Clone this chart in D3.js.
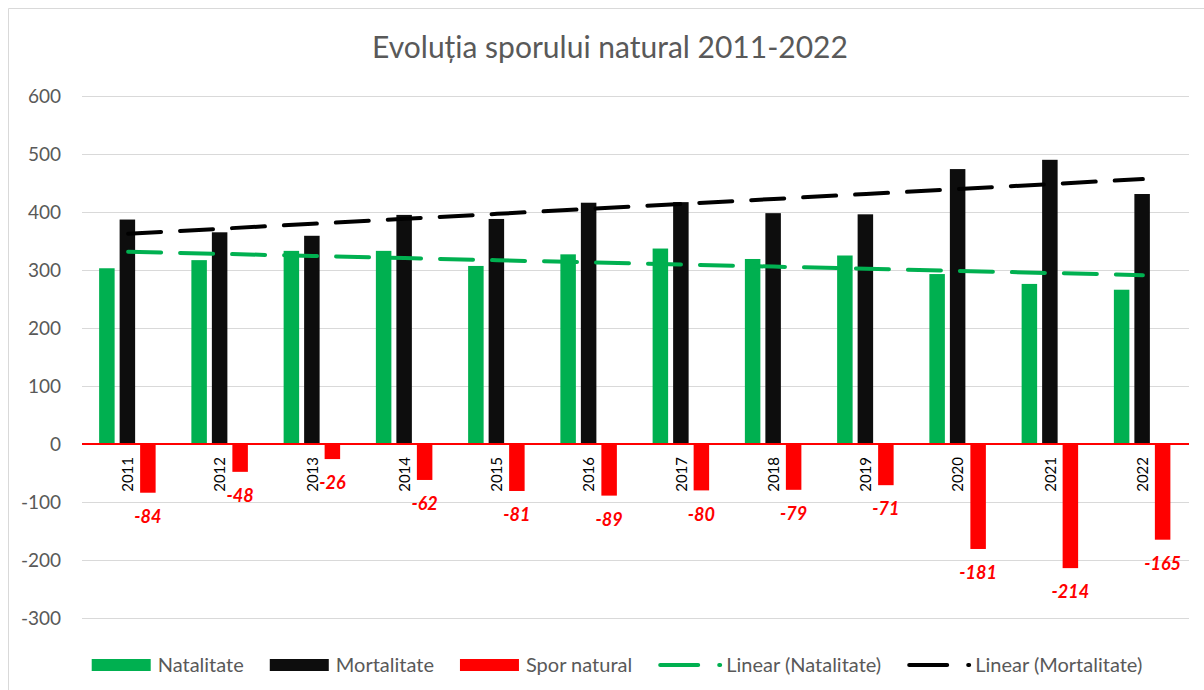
<!DOCTYPE html>
<html>
<head>
<meta charset="utf-8">
<title>Evoluția sporului natural 2011-2022</title>
<style>
  body { margin: 0; background: #fff; }
  text { font-family: Lato, "Open Sans", sans-serif; }
</style>
</head>
<body>
<svg id="chart" width="1204" height="690"></svg>
<script src="https://d3js.org/d3.v7.min.js"></script>
<script>
  // values
  const years = ['2011', '2012', '2013', '2014', '2015', '2016', '2017', '2018', '2019', '2020', '2021', '2022']
  const natalitate = [303, 317, 333, 333, 307, 327, 337, 319, 325, 293, 276, 266]
  const mortalitate = [387, 365, 359, 395, 388, 416, 417, 398, 396, 474, 490, 431]
  const sporNatural = [-84, -48, -26, -62, -81, -89, -80, -79, -71, -181, -214, -165]
  const yTicks = [-300, -200, -100, 0, 100, 200, 300, 400, 500, 600]

  const seriesNames = ['Natalitate', 'Mortalitate', 'Spor natural']
  const colors = { 'Natalitate': '#00b050', 'Mortalitate': '#0d0d0d', 'Spor natural': '#ff0000' }
  const grey = '#595959'

  const svg = d3.select('#chart')
  const margin = { left: 82, right: 1189, top: 96, bottom: 618 }

  // chart frame (only left and top edges show in the picture)
  svg.append('path')
    .attr('d', 'M8.5,690 V8.5 H1204')
    .attr('fill', 'none')
    .attr('stroke', '#d9d9d9')
    .attr('stroke-width', 1)

  svg.append('text')
    .attr('x', 610)
    .attr('y', 58)
    .attr('text-anchor', 'middle')
    .attr('fill', grey)
    .style('font-size', '30px')
    .text('Evoluția sporului natural 2011-2022')

  const x = d3.scaleBand()
    .domain(years)
    .range([margin.left, margin.right])

  const xSub = d3.scaleBand()
    .domain(seriesNames)
    .range([-29, 27.5])
    .paddingInner(0.244)

  const y = d3.scaleLinear()
    .domain([-300, 600])
    .range([margin.bottom, margin.top])

  // gridlines + tick labels
  const yAxis = d3.axisLeft(y)
    .tickValues(yTicks)
    .tickFormat(d => String(d))
    .tickSize(-(margin.right - margin.left))
    .tickPadding(21)

  const gy = svg.append('g')
    .attr('transform', `translate(${margin.left},0)`)
    .call(yAxis)
  gy.select('.domain').remove()
  gy.selectAll('.tick line').attr('stroke', '#d9d9d9').attr('stroke-width', 1)
  gy.selectAll('.tick text')
    .attr('fill', grey)
    .style('font-size', '19px')
    .style('font-family', 'Lato, sans-serif')

  const rows = years.map((yr, i) => ({
    year: yr,
    'Natalitate': natalitate[i],
    'Mortalitate': mortalitate[i],
    'Spor natural': sporNatural[i]
  }))

  const groups = svg.append('g')
    .selectAll('g')
    .data(rows)
    .join('g')
    .attr('transform', d => `translate(${x(d.year) + x.bandwidth() / 2},0)`)

  groups.selectAll('rect')
    .data(d => seriesNames.map(k => ({ key: k, value: d[k] })))
    .join('rect')
    .attr('x', d => xSub(d.key))
    .attr('width', xSub.bandwidth())
    .attr('y', d => y(Math.max(0, d.value)))
    .attr('height', d => Math.abs(y(d.value) - y(0)))
    .attr('fill', d => colors[d.key])

  // zero line in red
  svg.append('line')
    .attr('x1', margin.left)
    .attr('x2', margin.right)
    .attr('y1', y(0))
    .attr('y2', y(0))
    .attr('stroke', '#ff0000')
    .attr('stroke-width', 2)

  // year labels, rotated, just under the zero line
  groups.append('text')
    .attr('transform', `translate(5,${y(0) + 13}) rotate(-90)`)
    .attr('text-anchor', 'end')
    .attr('fill', '#000')
    .style('font-size', '15px')
    .text(d => d.year)

  // data labels for spor natural
  groups.append('text')
    .attr('x', xSub('Spor natural') + xSub.bandwidth() / 2)
    .attr('y', d => y(d['Spor natural']) + 24)
    .attr('dy', '0.35em')
    .attr('text-anchor', 'middle')
    .attr('fill', '#ff0000')
    .style('font-size', '18px')
    .style('font-weight', 'bold')
    .style('font-style', 'italic')
    .text(d => d['Spor natural'])

  // linear trendlines (least squares, x = 1..n)
  function linearFit(vals) {
    const xs = vals.map((v, i) => i + 1)
    const mx = d3.mean(xs), my = d3.mean(vals)
    const sxy = d3.sum(xs, (xi, i) => (xi - mx) * (vals[i] - my))
    const sxx = d3.sum(xs, xi => (xi - mx) * (xi - mx))
    const b = sxy / sxx
    return xs.map(xi => my + b * (xi - mx))
  }

  const trendLine = d3.line()
    .x((d, i) => x(years[i]) + x.bandwidth() / 2)
    .y(d => y(d))

  const trends = [
    { name: 'Linear (Natalitate)', color: '#00b050', values: linearFit(natalitate) },
    { name: 'Linear (Mortalitate)', color: '#000000', values: linearFit(mortalitate) }
  ]

  svg.append('g')
    .selectAll('path')
    .data(trends)
    .join('path')
    .attr('d', d => trendLine(d.values))
    .attr('fill', 'none')
    .attr('stroke', d => d.color)
    .attr('stroke-width', 4)
    .attr('stroke-linecap', 'round')
    .attr('stroke-dasharray', '33 19')

  // legend ---------------------------------------------
  const legendItems = [
    { name: 'Natalitate', color: colors['Natalitate'], type: 'box' },
    { name: 'Mortalitate', color: colors['Mortalitate'], type: 'box' },
    { name: 'Spor natural', color: colors['Spor natural'], type: 'box' },
    { name: trends[0].name, color: trends[0].color, type: 'line' },
    { name: trends[1].name, color: trends[1].color, type: 'line' }
  ]

  const legend = svg.append('g')
  const legendY = 665
  let lx = 0
  legendItems.forEach(item => {
    const g = legend.append('g').attr('transform', `translate(${lx},0)`)
    let textX
    if (item.type === 'box') {
      g.append('rect')
        .attr('x', 0).attr('y', legendY - 6)
        .attr('width', 59).attr('height', 12)
        .attr('fill', item.color)
      textX = 66
    } else {
      g.append('line')
        .attr('x1', 2).attr('x2', 62)
        .attr('y1', legendY).attr('y2', legendY)
        .attr('stroke', item.color)
        .attr('stroke-width', 4)
        .attr('stroke-linecap', 'round')
        .attr('stroke-dasharray', '38 21')
      textX = 68
    }
    const t = g.append('text')
      .attr('x', textX)
      .attr('y', legendY)
      .attr('dy', '0.35em')
      .attr('fill', grey)
      .style('font-size', '20px')
      .text(item.name)
    lx += textX + t.node().getComputedTextLength() + 26
  })
  const legendWidth = lx - 26
  legend.attr('transform', `translate(${617 - legendWidth / 2},0)`)
</script>
</body>
</html>
